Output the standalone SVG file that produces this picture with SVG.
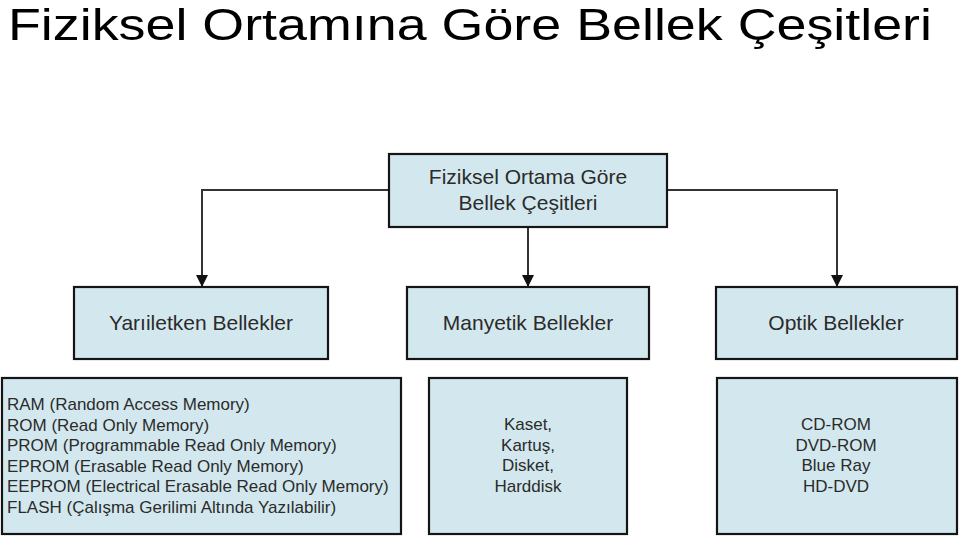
<svg xmlns="http://www.w3.org/2000/svg" width="960" height="538" viewBox="0 0 960 538">
<style>
.box{fill:#d3e8ee;stroke:#151515;stroke-width:2.2}
.t{font-family:"Liberation Sans",Arial,sans-serif;fill:#2b2b2b}
.h{font-size:21px;text-anchor:middle}
.s{font-size:17px}
.c{text-anchor:middle}
.conn{fill:none;stroke:#333;stroke-width:2}
.title{font-family:"Liberation Sans",Arial,sans-serif;font-size:45px;fill:#000}
</style>
<defs>
<marker id="arr" markerUnits="userSpaceOnUse" markerWidth="12" markerHeight="12" viewBox="0 0 10 10" refX="10" refY="5" orient="auto">
<path d="M0,0 L10,5 L0,10 z" fill="#111"/>
</marker>
</defs>
<rect width="960" height="538" fill="#fff"/>
<text class="title" x="8" y="40" textLength="924" lengthAdjust="spacingAndGlyphs">Fiziksel Ortamına Göre Bellek Çeşitleri</text>

<g id="connectors">
<path class="conn" d="M389,190 H202 V287" marker-end="url(#arr)"/>
<path class="conn" d="M528,227 V287" marker-end="url(#arr)"/>
<path class="conn" d="M667,190 H837 V287" marker-end="url(#arr)"/>
</g>

<g id="root">
<rect class="box" x="389" y="154" width="278" height="73"/>
<text class="t h" x="528" y="184">Fiziksel Ortama Göre</text>
<text class="t h" x="528" y="210">Bellek Çeşitleri</text>
</g>

<g id="yariiletken">
<rect class="box" x="74" y="287" width="254" height="72"/>
<text class="t h" x="201" y="330">Yarıiletken Bellekler</text>
</g>

<g id="manyetik">
<rect class="box" x="407" y="287" width="242" height="72"/>
<text class="t h" x="528" y="330">Manyetik Bellekler</text>
</g>

<g id="optik">
<rect class="box" x="716" y="287" width="241" height="72"/>
<text class="t h" x="836" y="330">Optik Bellekler</text>
</g>

<g id="yariiletken-list">
<rect class="box" x="2" y="378" width="399" height="156"/>
<text class="t s" x="7" y="410">RAM (Random Access Memory)</text>
<text class="t s" x="7" y="430.6">ROM (Read Only Memory)</text>
<text class="t s" x="7" y="451.2">PROM (Programmable Read Only Memory)</text>
<text class="t s" x="7" y="471.8">EPROM (Erasable Read Only Memory)</text>
<text class="t s" x="7" y="492.4">EEPROM (Electrical Erasable Read Only Memory)</text>
<text class="t s" x="7" y="513">FLASH (Çalışma Gerilimi Altında Yazılabilir)</text>
</g>

<g id="manyetik-list">
<rect class="box" x="429" y="378" width="198" height="156"/>
<text class="t s c" x="528" y="430">Kaset,</text>
<text class="t s c" x="528" y="450.6">Kartuş,</text>
<text class="t s c" x="528" y="471.2">Disket,</text>
<text class="t s c" x="528" y="491.8">Harddisk</text>
</g>

<g id="optik-list">
<rect class="box" x="717" y="378" width="240" height="156"/>
<text class="t s c" x="836" y="430">CD-ROM</text>
<text class="t s c" x="836" y="450.6">DVD-ROM</text>
<text class="t s c" x="836" y="471.2">Blue Ray</text>
<text class="t s c" x="836" y="491.8">HD-DVD</text>
</g>
</svg>
